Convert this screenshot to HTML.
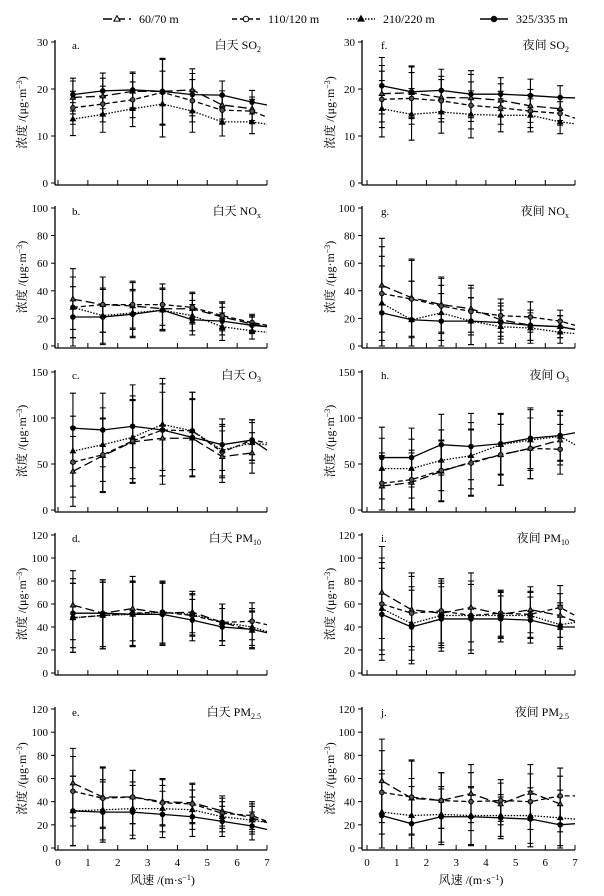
<!DOCTYPE html>
<html><head><meta charset="utf-8">
<style>
html,body{margin:0;padding:0;background:#fff;}
svg{display:block;font-family:"Liberation Serif","Noto Serif CJK SC","Noto Sans CJK SC",serif;}
</style></head>
<body>
<svg id="chart" width="604" height="896" viewBox="0 0 604 896" xmlns="http://www.w3.org/2000/svg">
<g id="legend"></g>
</svg>
<script>
// x categories (wind speed); index 7 = line end at 7 m/s (no marker)
const windSpeeds = [0.5,1.5,2.5,3.5,4.5,5.5,6.5,7];
const seriesNames = ["60/70 m","110/120 m","210/220 m","325/335 m"];
const panelLetters = ["a.","b.","c.","d.","e.","f.","g.","h.","i.","j."];
const panelTitles = [["白天 SO","2"],["白天 NO","x"],["白天 O","3"],["白天 PM","10"],["白天 PM","2.5"],
                     ["夜间 SO","2"],["夜间 NO","x"],["夜间 O","3"],["夜间 PM","10"],["夜间 PM","2.5"]];
const yMaxes = [30,100,150,120,120,30,100,150,120,120];
const yTickSteps = [10,20,50,20,20,10,20,50,20,20];
const xTickLabels = [0,1,2,3,4,5,6,7];

// series values per panel: s1=60/70, s2=110/120, s3=210/220, s4=325/335
const aS1=[18.2,18.5,19.5,19.5,19.8,16.6,15.8,null], aS2=[16,16.8,17.7,19.3,17.5,15.5,15.3,14], aS3=[13.6,14.6,15.8,16.8,15.3,13,13,12.5], aS4=[18.8,19.6,19.8,19.5,18.8,18.7,17.2,16.6], aErr=[3.5,3.8,3.8,7,4.5,3,2.5];
const bS1=[34,30,29,27,27,21,16,14], bS2=[28,30,30,30,28,22,17,15], bS3=[28,22,24,26,22,14,11,10], bS4=[21,21,23,26,19,18,15,14], bErr=[22,20,17,15,11,10,6];
const cS1=[42,59,74,78,78,58,62,null], cS2=[52,60,75,87,86,63,76,73], cS3=[64,71,79,93,86,65,73,71], cS4=[89,87,91,87,79,71,76,65], cErr=[38,40,45,50,42,28,22];
const dS1=[59,52,56,52,53,44,37,null], dS2=[48,50,52,53,50,44,45,42], dS3=[48,50,51,53,51,44,40,36], dS4=[52,52,51,51,46,40,38,35], dErr=[30,29,28,27,18,16,16];
const eS1=[56,44,44,40,39,32,26,22], eS2=[49,43,44,39,38,30,28,23], eS3=[32,33,34,34,33,27,24,22], eS4=[32,31,31,29,27,23,19,16], eErr=[30,26,23,20,17,13,12];
const fS1=[19,19.2,18.2,18.1,17.6,16.4,15.8,null], fS2=[17.8,18,17.5,16.5,16,15.3,14.8,13.8], fS3=[15.8,14.6,15.1,14.6,14.4,14.4,13,12.6], fS4=[20.7,19.4,19.7,18.9,18.9,18.6,18.2,18.1], fErr=[6,5.5,4.5,5,3.5,3.5,2.5];
const gS1=[44,35,30,27,19,15,14,12], gS2=[38,34,29,25,22,21,18,15], gS3=[31,19,24,18,14,13,10,9], gS4=[24,19,18,18,17,15,14,12], gErr=[34,28,20,17,12,11,8];
const hS1=[26,30,42,52,60,67,76,null], hS2=[29,33,43,51,60,67,66,null], hS3=[45,45,54,59,71,76,80,71], hS4=[57,57,71,69,72,78,81,84], hErr=[33,32,33,36,33,33,27];
const iS1=[70,55,52,57,51,55,50,45], iS2=[60,52,54,50,52,51,57,50], iS3=[56,43,50,50,50,50,42,44], iS4=[51,40,47,47,47,46,40,40], iErr=[40,32,28,30,20,20,19];
const jS1=[58,43,41,47,38,48,38,null], jS2=[48,44,41,40,41,40,45,45], jS3=[31,28,29,28,28,28,26,25], jS4=[28,21,27,27,26,25,20,21], jErr=[36,32,24,25,18,24,24];

const panelSeries=[[aS1,aS2,aS3,aS4],[bS1,bS2,bS3,bS4],[cS1,cS2,cS3,cS4],[dS1,dS2,dS3,dS4],[eS1,eS2,eS3,eS4],
                   [fS1,fS2,fS3,fS4],[gS1,gS2,gS3,gS4],[hS1,hS2,hS3,hS4],[iS1,iS2,iS3,iS4],[jS1,jS2,jS3,jS4]];
const panelErrs=[aErr,bErr,cErr,dErr,eErr,fErr,gErr,hErr,iErr,jErr];

const NS="http://www.w3.org/2000/svg";
const svg=document.getElementById('chart');
const rowTop=[42,208,372,535,709], rowZero=[183,346,510,673,848];
const colAxis=[55,362], colX0=[58,367], colX7=[267,575];
const dashes=["9,4","5,3","1.5,1.5",""];
function mk(tag,attrs,parent){const e=document.createElementNS(NS,tag);for(const k in attrs)e.setAttribute(k,attrs[k]);(parent||svg).appendChild(e);return e;}

function marker(g,k,x,y,big){
  const s=big?1.2:1;
  if(k===0||k===2){const p=mk('polygon',{points:`${x},${y-2.8*s} ${x-2.6*s},${y+1.8*s} ${x+2.6*s},${y+1.8*s}`,fill:k===0?(big?'#fff':'#555'):'#000',stroke:'#000','stroke-width':1},g);
    }
  else {const c=mk('circle',{cx:x,cy:y,r:2.3*s,fill:k===1?(big?'#fff':'#555'):'#000',stroke:'#000','stroke-width':1},g);
    }
}

for(let p=0;p<10;p++){
  const col=p<5?0:1,row=p%5;
  const top=rowTop[row],zero=rowZero[row],yMax=yMaxes[p];
  const xs=v=>colX0[col]+(colX7[col]-colX0[col])*v/7;
  const ys=v=>zero-(zero-top)*v/yMax;
  const g=mk('g',{});
  
  
  const ax=colAxis[col];
  const ya=mk('line',{x1:ax,y1:top-2,x2:ax,y2:zero+2,stroke:'#000','stroke-width':1.3},g);
  
  const xa=mk('line',{x1:ax,y1:zero+2,x2:colX7[col],y2:zero+2,stroke:'#000','stroke-width':1.3},g);
  
  for(let t=0;t<=yMax;t+=yTickSteps[p]){
    mk('line',{x1:ax-4,y1:ys(t),x2:ax,y2:ys(t),stroke:'#000','stroke-width':1},g);
    const tl=mk('text',{x:ax-7,y:ys(t)+4,'font-size':11,'text-anchor':'end'},g);tl.textContent=t;
    
  }
  for(const t of xTickLabels){
    mk('line',{x1:xs(t),y1:zero+2,x2:xs(t),y2:zero-3,stroke:'#000','stroke-width':1},g);
    if(row===4){const tl=mk('text',{x:xs(t),y:zero+18,'font-size':11,'text-anchor':'middle'},g);tl.textContent=t;
      }
  }
  if(row===4){const xt=mk('text',{x:(colX0[col]+colX7[col])/2,y:zero+36,'font-size':12,'text-anchor':'middle'},g);
    xt.innerHTML='风速 /(m·s<tspan dy="-4" font-size="8">−1</tspan><tspan dy="4">)</tspan>';
    }
  const yt=mk('text',{transform:`translate(${col?334:26},${(top+zero)/2}) rotate(-90)`,'font-size':12,'text-anchor':'middle'},g);
  yt.innerHTML='浓度 /(μg·m<tspan dy="-4" font-size="8">−3</tspan><tspan dy="4">)</tspan>';
  
  const lt=mk('text',{x:colX0[col]+14,y:top+7,'font-size':11},g);lt.textContent=panelLetters[p];
  
  const tt=mk('text',{x:colX7[col]-6,y:top+7,'font-size':12,'text-anchor':'end'},g);
  tt.innerHTML=panelTitles[p][0]+'<tspan dy="3" font-size="8">'+panelTitles[p][1]+'</tspan>';
  
  const errs=panelErrs[p];
  panelSeries[p].forEach((vals,k)=>{
    for(let i=0;i<7;i++){if(vals[i]==null)continue;
      const hi=ys(Math.min(vals[i]+errs[i],yMax)),lo=ys(Math.max(vals[i]-errs[i],0));const x=xs(windSpeeds[i]);
      const eb=mk('path',{d:`M${x},${hi}V${lo}M${x-3},${hi}H${x+3}M${x-3},${lo}H${x+3}`,stroke:'#000','stroke-width':1.1,fill:'none'},g);
      }
  });
  panelSeries[p].forEach((vals,k)=>{
    let d='';vals.forEach((v,i)=>{if(v==null)return;d+=(d?'L':'M')+xs(windSpeeds[i])+','+ys(v);});
    const ln=mk('path',{d,stroke:'#000','stroke-width':1.3,fill:'none','stroke-dasharray':dashes[k]},g);
    
    vals.forEach((v,i)=>{if(v==null||i>6)return;marker(g,k,xs(windSpeeds[i]),ys(v),false);});
  });
}
const leg=document.getElementById('legend');
const legX=[103,232,347,480];
seriesNames.forEach((n,k)=>{
  const g=mk('g',{},leg);
  
  const x=legX[k];
  mk('path',{d:`M${x},19H${x+28}`,stroke:'#000','stroke-width':1.4,'stroke-dasharray':dashes[k]},g);
  marker(g,k,x+14,19,true);
  const t=mk('text',{x:x+36,y:23,'font-size':12},g);t.textContent=n;
});
</script>
</body></html>
